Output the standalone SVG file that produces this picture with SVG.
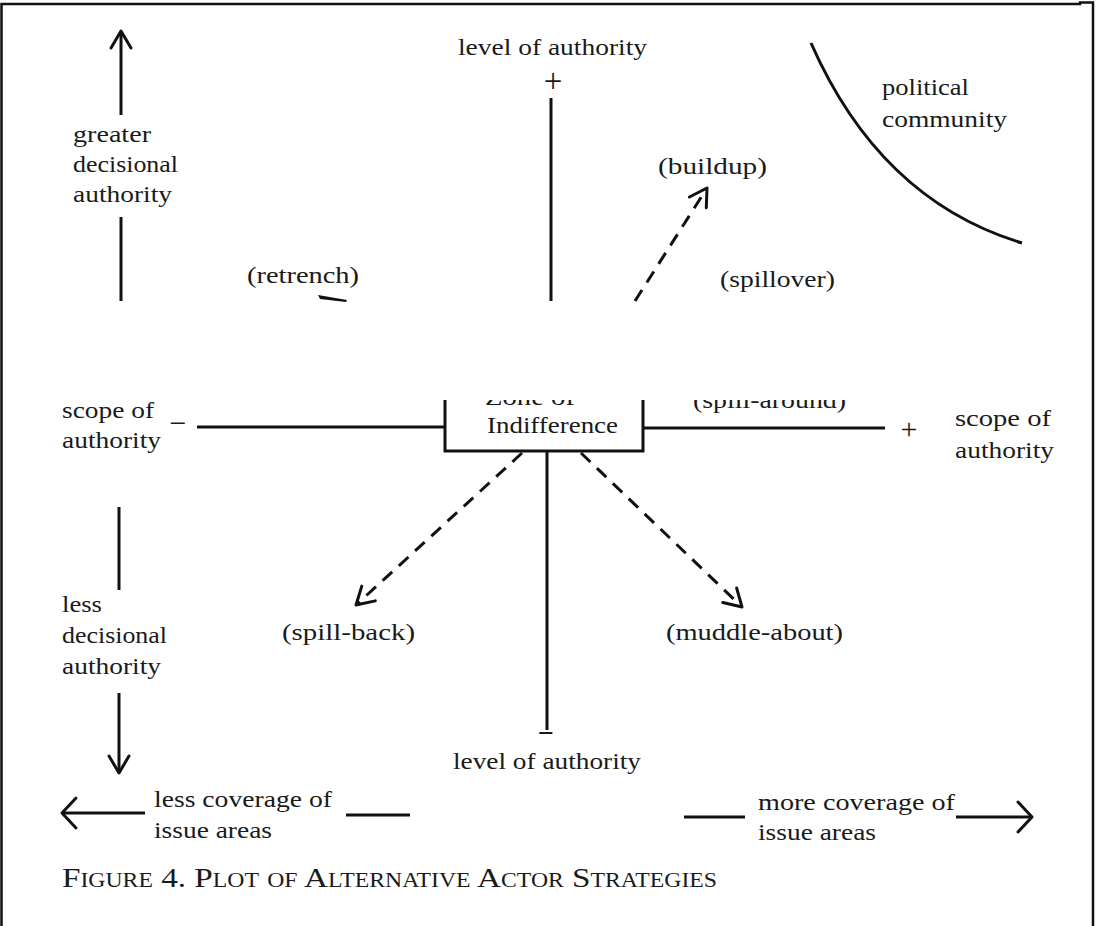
<svg xmlns="http://www.w3.org/2000/svg" width="1096" height="926" viewBox="0 0 1096 926">
<defs>
<style>
text{font-family:"Liberation Serif","Times New Roman",serif;font-size:23px;fill:#1a1a1a}
.ln{stroke:#111;stroke-width:3;fill:none}
.ds{stroke:#111;stroke-width:3;fill:none;stroke-dasharray:13 9}
.frame{stroke:#111;stroke-width:2.5;fill:none}
.cap{font-size:28px;font-variant:small-caps}
.plusL{font-size:33px}
.plusS{font-size:30px}
.minus{font-size:30px}
.minusB{font-size:28px;font-weight:bold}
</style>
<marker id="ah" markerUnits="userSpaceOnUse" markerWidth="26" markerHeight="26" refX="22" refY="13" orient="auto">
<path d="M5,3 L22,13 L5,23" fill="none" stroke="#111" stroke-width="3" stroke-linejoin="round" stroke-linecap="round"/>
</marker>
<marker id="ahw" markerUnits="userSpaceOnUse" markerWidth="26" markerHeight="38" refX="22" refY="19" orient="auto">
<path d="M8,4 L22,19 L8,34" fill="none" stroke="#111" stroke-width="3" stroke-linejoin="round" stroke-linecap="round"/>
</marker>
<clipPath id="lower"><rect x="0" y="400" width="1096" height="526"/></clipPath>
</defs>

<rect width="1096" height="926" fill="#fff"/>
<path class="frame" d="M1.5,926 V4 H1080 V2.5 H1093 V926"/>

<g id="connectors">
<line class="ln" x1="121" y1="115" x2="121" y2="31" marker-end="url(#ah)"/>
<line class="ln" x1="121" y1="217" x2="121" y2="301"/>
<line class="ln" x1="551" y1="98" x2="551" y2="301"/>
<path class="ln" d="M811,43 Q880,200 1022,243"/>
<line class="ds" x1="635" y1="301" x2="707" y2="188" marker-end="url(#ah)"/>
<path d="M318,295 L347,300 L346,302 L320,299 Z" fill="#111"/>
<line class="ln" x1="197" y1="427" x2="445" y2="427"/>
<line class="ln" x1="643" y1="428" x2="885" y2="428"/>
<line class="ln" x1="547" y1="451" x2="547" y2="730"/>
<line class="ds" x1="522" y1="453" x2="356" y2="605" marker-end="url(#ah)"/>
<line class="ds" x1="581" y1="453" x2="742" y2="607" marker-end="url(#ah)"/>
<line class="ln" x1="119" y1="507" x2="119" y2="590"/>
<line class="ln" x1="119" y1="693" x2="119" y2="773" marker-end="url(#ah)"/>
<line class="ln" x1="145" y1="813" x2="62" y2="813" marker-end="url(#ahw)"/>
<line class="ln" x1="346" y1="815" x2="410" y2="815"/>
<line class="ln" x1="684" y1="817" x2="745" y2="817"/>
<line class="ln" x1="956" y1="817" x2="1032" y2="817" marker-end="url(#ahw)"/>
</g>

<g id="zone-of-indifference">
<path class="ln" d="M445,400 V451 H643 V400"/>
<text x="485" y="405" textLength="90" lengthAdjust="spacingAndGlyphs" clip-path="url(#lower)">Zone of</text>
<text x="487" y="433" textLength="131" lengthAdjust="spacingAndGlyphs">Indifference</text>
</g>

<g id="greater-authority">
<text x="73" y="142" textLength="78" lengthAdjust="spacingAndGlyphs">greater</text>
<text x="73" y="172" textLength="105" lengthAdjust="spacingAndGlyphs">decisional</text>
<text x="73" y="202" textLength="99" lengthAdjust="spacingAndGlyphs">authority</text>
</g>

<g id="level-top">
<text x="458" y="55" textLength="189" lengthAdjust="spacingAndGlyphs">level of authority</text>
<text class="plusL" x="553" y="92" text-anchor="middle">+</text>
</g>

<g id="political-community">
<text x="882" y="95" textLength="87" lengthAdjust="spacingAndGlyphs">political</text>
<text x="882" y="127" textLength="125" lengthAdjust="spacingAndGlyphs">community</text>
</g>

<g id="buildup"><text x="658" y="174" textLength="109" lengthAdjust="spacingAndGlyphs">(buildup)</text></g>
<g id="retrench"><text x="247" y="283" textLength="112" lengthAdjust="spacingAndGlyphs">(retrench)</text></g>
<g id="spillover"><text x="720" y="287" textLength="115" lengthAdjust="spacingAndGlyphs">(spillover)</text></g>
<g id="spill-around"><text x="693" y="408" textLength="153" lengthAdjust="spacingAndGlyphs" clip-path="url(#lower)">(spill-around)</text></g>

<g id="scope-left">
<text x="62" y="418" textLength="92" lengthAdjust="spacingAndGlyphs">scope of</text>
<text x="62" y="448" textLength="99" lengthAdjust="spacingAndGlyphs">authority</text>
<text class="minus" x="178" y="433" text-anchor="middle">−</text>
</g>

<g id="scope-right">
<text class="plusS" x="909" y="439" text-anchor="middle">+</text>
<text x="955" y="426" textLength="96" lengthAdjust="spacingAndGlyphs">scope of</text>
<text x="955" y="458" textLength="99" lengthAdjust="spacingAndGlyphs">authority</text>
</g>

<g id="spill-back"><text x="282" y="640" textLength="133" lengthAdjust="spacingAndGlyphs">(spill-back)</text></g>
<g id="muddle-about"><text x="666" y="640" textLength="177" lengthAdjust="spacingAndGlyphs">(muddle-about)</text></g>

<g id="less-authority">
<text x="62" y="612" textLength="40" lengthAdjust="spacingAndGlyphs">less</text>
<text x="62" y="643" textLength="105" lengthAdjust="spacingAndGlyphs">decisional</text>
<text x="62" y="674" textLength="99" lengthAdjust="spacingAndGlyphs">authority</text>
</g>

<g id="level-bottom">
<text class="minusB" x="546" y="742" text-anchor="middle">−</text>
<text x="453" y="769" textLength="188" lengthAdjust="spacingAndGlyphs">level of authority</text>
</g>

<g id="less-coverage">
<text x="154" y="807" textLength="178" lengthAdjust="spacingAndGlyphs">less coverage of</text>
<text x="154" y="838" textLength="118" lengthAdjust="spacingAndGlyphs">issue areas</text>
</g>

<g id="more-coverage">
<text x="758" y="810" textLength="197" lengthAdjust="spacingAndGlyphs">more coverage of</text>
<text x="758" y="840" textLength="118" lengthAdjust="spacingAndGlyphs">issue areas</text>
</g>

<g id="caption">
<text class="cap" x="62" y="887" textLength="655" lengthAdjust="spacingAndGlyphs">Figure 4. Plot of Alternative Actor Strategies</text>
</g>
</svg>
